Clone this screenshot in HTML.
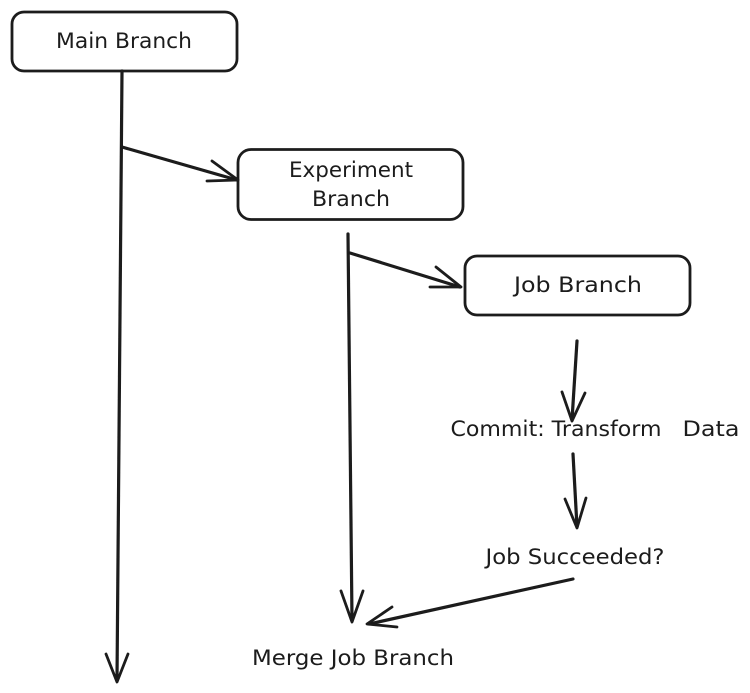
<!DOCTYPE html>
<html>
<head>
<meta charset="utf-8">
<style>
html,body{margin:0;padding:0;background:#fff;}
svg{display:block;}
text{font-family:"DejaVu Sans","Liberation Sans",sans-serif;fill:#1a1a1a;font-size:21px;text-anchor:middle;}
.b{fill:#fff;stroke:#1a1a1a;stroke-width:2.8;}
.l{fill:none;stroke:#1a1a1a;stroke-width:3.2;stroke-linecap:round;stroke-linejoin:round;}
.a{fill:none;stroke:#1a1a1a;stroke-width:2.8;stroke-linecap:round;stroke-linejoin:round;}
</style>
</head>
<body>
<svg width="750" height="693" viewBox="0 0 750 693" xmlns="http://www.w3.org/2000/svg">
<defs><filter id="s" filterUnits="userSpaceOnUse" x="0" y="0" width="750" height="693"><feGaussianBlur stdDeviation="0.35"/></filter></defs>
<rect width="750" height="693" fill="#fff"/>
<g filter="url(#s)">
<rect class="b" x="12" y="12" width="225" height="59" rx="12"/>
<rect class="b" x="238" y="149.500" width="225" height="70" rx="13"/>
<rect class="b" x="465" y="256" width="225" height="59" rx="12"/>

<text x="124" y="48" textLength="136" lengthAdjust="spacingAndGlyphs">Main Branch</text>
<text x="351" y="177" textLength="124" lengthAdjust="spacingAndGlyphs">Experiment</text>
<text x="351" y="206" textLength="78" lengthAdjust="spacingAndGlyphs">Branch</text>
<text x="578" y="292" textLength="128" lengthAdjust="spacingAndGlyphs">Job Branch</text>
<text x="556" y="436" textLength="211" lengthAdjust="spacingAndGlyphs">Commit: Transform</text>
<text x="711" y="436" textLength="57" lengthAdjust="spacingAndGlyphs">Data</text>
<text x="575" y="564" textLength="179" lengthAdjust="spacingAndGlyphs">Job Succeeded?</text>
<text x="353" y="665" textLength="202" lengthAdjust="spacingAndGlyphs">Merge Job Branch</text>

<path class="l" d="M122 71 L117 680"/>
<path class="a" d="M106 654 L117 682 L128 654"/>
<path class="l" d="M122 147 L237 180"/>
<path class="a" d="M212 161 L238 180 L207 181"/>
<path class="l" d="M348 234 L352 620"/>
<path class="a" d="M341 591 L352 622 L363 591"/>
<path class="l" d="M350 253 L460 287"/>
<path class="a" d="M436 267 L461 287 L430 287"/>
<path class="l" d="M577 341 L572 420"/>
<path class="a" d="M562 392 L572 421 L585 393"/>
<path class="l" d="M573 454 L577 527"/>
<path class="a" d="M565 499 L577 528 L586 498"/>
<path class="l" d="M573 579 L369 624"/>
<path class="a" d="M392 607 L367 624 L397 627"/>
</g>
</svg>
</body>
</html>
